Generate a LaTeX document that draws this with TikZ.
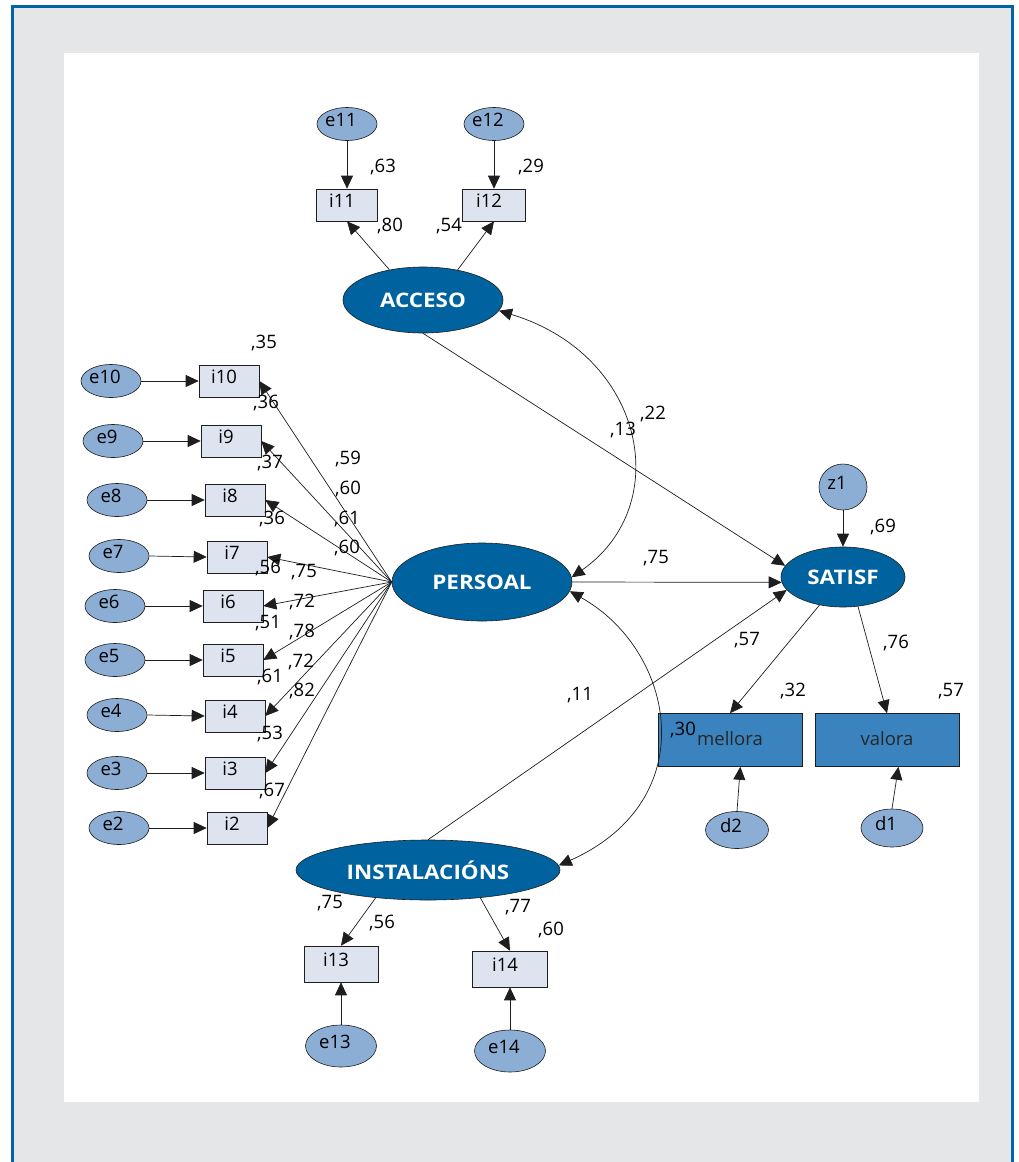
\documentclass[tikz,border=0pt]{standalone}
\usepackage{fontspec}
\setmainfont{Open Sans}
\newfontfamily\latfont{Open Sans}[FakeStretch=1.12]
\usetikzlibrary{shapes.geometric, arrows.meta}

\definecolor{frameblue}{RGB}{0,100,165}
\definecolor{bggray}{RGB}{229,230,232}
\definecolor{latblue}{RGB}{0,99,160}
\definecolor{errblue}{RGB}{140,173,212}
\definecolor{boxfill}{RGB}{221,228,240}
\definecolor{obsblue}{RGB}{58,131,190}
\definecolor{edge}{RGB}{30,30,30}

\newcommand{\txtsize}{\fontsize{18.5}{21}\selectfont}
\newcommand{\latsize}{\latfont\bfseries\fontsize{20}{23}\selectfont}

\tikzset{
  latent/.style={ellipse, draw=edge, line width=0.6pt, fill=latblue, text=white,
    font=\latsize, inner sep=0pt},
  err/.style={ellipse, draw=edge, line width=0.6pt, fill=errblue, inner sep=0pt,
    minimum width=60pt, minimum height=33pt,
    label={[font=\txtsize, xshift=-6pt, yshift=4pt]center:#1}},
  ibox/.style={rectangle, draw=edge, line width=0.6pt, fill=boxfill, inner sep=0pt,
    minimum width=60pt, minimum height=32pt,
    label={[font=\txtsize, xshift=-5pt, yshift=4pt]center:#1}},
  obs/.style={rectangle, draw=edge, line width=0.6pt, fill=obsblue, inner sep=0pt,
    minimum width=144pt, minimum height=53pt, text=black!85, font=\txtsize},
  num/.style={font=\txtsize, inner sep=0pt},
  arr/.style={-{Triangle[length=13pt,width=12pt]}, line width=0.7pt, draw=edge},
  biarr/.style={{Triangle[length=13pt,width=12pt]}-{Triangle[length=13pt,width=12pt]},
    line width=0.7pt, draw=edge}
}

\begin{document}
\begin{tikzpicture}[x=1pt,y=-1pt]
\useasboundingbox (0,0) rectangle (1018,1162);

% panel background and frame
\fill[bggray] (12,6) rectangle (1012,1180);
\fill[white] (64,53) rectangle (979,1102);
\draw[frameblue, line width=3pt] (12,1180) -- (12,6) -- (1012,6) -- (1012,1180);

% latent variables
\node[latent, minimum width=160pt, minimum height=66pt] (acc) at (423,300) {ACCESO};
\node[latent, minimum width=180pt, minimum height=78pt] (per) at (482,582) {PERSOAL};
\node[latent, minimum width=264pt, minimum height=60pt] (ins) at (428,870) {INSTALACIÓNS};
\node[latent, minimum width=124pt, minimum height=60pt] (sat) at (843,577) {SATISF};

% ACCESO indicators
\node[err=e11] (e11) at (347,124) {};
\node[err=e12] (e12) at (494,124) {};
\node[ibox=i11, minimum width=61pt] (i11) at (347,205) {};
\node[ibox=i12, minimum width=63pt] (i12) at (494,205) {};

% PERSOAL indicators
\node[ibox=i10] (i10) at (229,381) {};
\node[ibox=i9]  (i9)  at (231,441) {};
\node[ibox=i8]  (i8)  at (235,500) {};
\node[ibox=i7]  (i7)  at (237,557) {};
\node[ibox=i6]  (i6)  at (233,606) {};
\node[ibox=i5]  (i5)  at (233,660) {};
\node[ibox=i4]  (i4)  at (235,716) {};
\node[ibox=i3]  (i3)  at (235,773) {};
\node[ibox=i2]  (i2)  at (237,828) {};

\node[err=e10] (e10) at (111,381) {};
\node[err=e9]  (e9)  at (113,441) {};
\node[err=e8]  (e8)  at (117,500) {};
\node[err=e7]  (e7)  at (119,556) {};
\node[err=e6]  (e6)  at (115,606) {};
\node[err=e5]  (e5)  at (115,660) {};
\node[err=e4]  (e4)  at (117,715) {};
\node[err=e3]  (e3)  at (117,773) {};
\node[err=e2]  (e2)  at (119,828) {};

% INSTALACIÓNS indicators
\node[ibox=i13, minimum width=74pt, minimum height=36pt] (i13) at (341,964) {};
\node[ibox=i14, minimum width=75pt, minimum height=36pt] (i14) at (510,969) {};
\node[err=e13, minimum width=71pt, minimum height=42pt] (e13) at (341,1046) {};
\node[err=e14, minimum width=71pt, minimum height=42pt] (e14) at (510,1051) {};

% SATISF indicators
\node[err=z1, minimum width=48pt, minimum height=46pt] (z1) at (843,487) {};
\node[obs] (mel) at (730,740) {\raisebox{3pt}{mellora}};
\node[obs] (val) at (887,740) {\raisebox{3pt}{valora}};
\node[err=d2, minimum width=63pt, minimum height=37pt] (d2) at (737,830) {};
\node[err=d1, minimum width=62pt, minimum height=38pt] (d1) at (892,828) {};

% measurement paths
\draw[arr] (e11.south) -- (i11.north);
\draw[arr] (e12.south) -- (i12.north);
\draw[arr] (acc.138) -- (i11.south);
\draw[arr] (acc.41) -- (i12.south);

\coordinate (pw) at (per.west);
\foreach \i in {10,9,8,7,6,5,4,3,2}{
  \draw[arr] (e\i.east) -- (i\i.west);
  \draw[arr] (pw) -- (i\i.east);
}

\draw[arr] (ins.208) -- (i13.north);
\draw[arr] (ins.-28) -- (i14.north);
\draw[arr] (e13.north) -- (i13.south);
\draw[arr] (e14.north) -- (i14.south);

\draw[arr] (z1.south) -- (sat.north);
\draw[arr] (sat.-130) -- (mel.north);
\draw[arr] (sat.-63) -- (val.north);
\draw[arr] (d2.north) -- (mel.-69);
\draw[arr] (d1.north) -- (val.-67);

% structural paths
\draw[arr] (acc.south) -- (sat.169);
\draw[arr] (per.east) -- (sat.185);
\draw[arr] (ins.north) -- (sat.193);

% covariances
\draw[biarr] (acc.-8) .. controls (645,355) and (675,505) .. (per.3);
\draw[biarr] (per.-6) .. controls (675,650) and (705,800) .. (ins.2);

% estimates
\node[num] at (383,167) {,63};
\node[num] at (531,167) {,29};
\node[num] at (390,226) {,80};
\node[num] at (449,226) {,54};

\node[num] at (264,343) {,35};
\node[num] at (266,403) {,36};
\node[num] at (270,463) {,37};
\node[num] at (272,519) {,36};
\node[num] at (268,568) {,56};
\node[num] at (268,623) {,51};
\node[num] at (270,677) {,61};
\node[num] at (270,734) {,53};
\node[num] at (272,791) {,67};

\node[num] at (348,459) {,59};
\node[num] at (348,489) {,60};
\node[num] at (347,519) {,61};
\node[num] at (347,548) {,60};
\node[num] at (304,572) {,75};
\node[num] at (302,602) {,72};
\node[num] at (302,632) {,78};
\node[num] at (301,662) {,72};
\node[num] at (302,691) {,82};

\node[num] at (623,430) {,13};
\node[num] at (653,414) {,22};
\node[num] at (656,558) {,75};
\node[num] at (883,527) {,69};
\node[num] at (747,640) {,57};
\node[num] at (580,695) {,11};
\node[num] at (896,643) {,76};
\node[num] at (793,691) {,32};
\node[num] at (951,691) {,57};
\node[num] at (683,730) {,30};

\node[num] at (330,903) {,75};
\node[num] at (382,923) {,56};
\node[num] at (518,907) {,77};
\node[num] at (551,930) {,60};
\end{tikzpicture}
\end{document}
